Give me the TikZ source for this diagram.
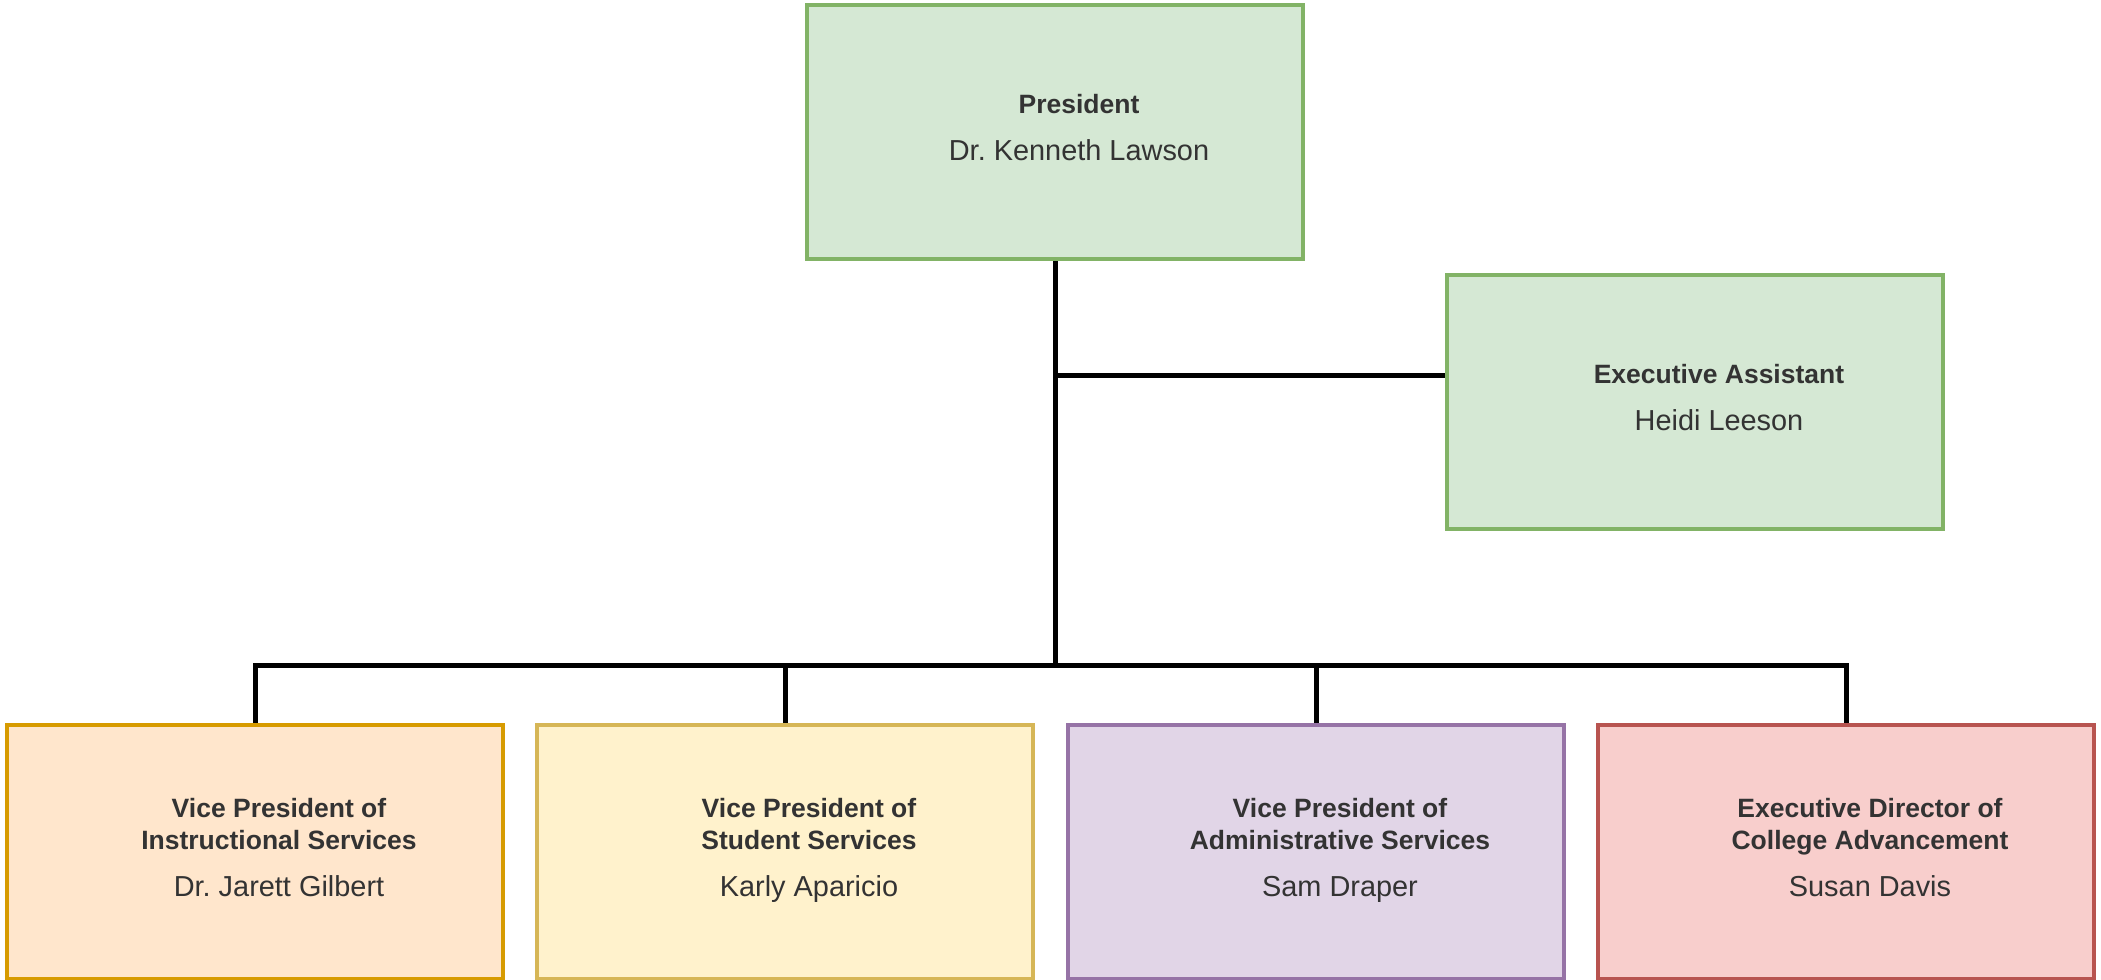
\documentclass[tikz,border=0pt]{standalone}
\usepackage{fontspec}
\setmainfont{Liberation Sans}
\frenchspacing
\definecolor{txt}{HTML}{333333}
\definecolor{greenfill}{HTML}{D5E8D4}
\definecolor{greenline}{HTML}{82B366}
\definecolor{orangefill}{HTML}{FFE6CC}
\definecolor{orangeline}{HTML}{D79B00}
\definecolor{yellowfill}{HTML}{FFF2CC}
\definecolor{yellowline}{HTML}{D6B656}
\definecolor{purplefill}{HTML}{E1D5E7}
\definecolor{purpleline}{HTML}{9673A6}
\definecolor{redfill}{HTML}{F8CECC}
\definecolor{redline}{HTML}{B85450}

\begin{document}
\begin{tikzpicture}[x=0.5pt,y=-0.5pt,
    box/.style={rectangle,draw,line width=2pt,minimum width=248pt,minimum height=127pt,inner sep=0pt},
    role/.style={anchor=south,align=center,inner sep=0pt,text depth=0pt,text=txt,xshift=12pt,
      font=\bfseries\fontsize{13.25}{16}\selectfont},
    who/.style={anchor=base,inner sep=0pt,text=txt,xshift=12pt,font=\fontsize{14.45}{17}\selectfont},
    link/.style={line width=2.5pt}]
    \useasboundingbox (0,0) rectangle (2101,980);

    \node[box,fill=greenfill,draw=greenline] (pres) at (1055,132) {};
    \node[role,yshift=9pt] (pres-role) at (pres.center) {President};
    \node[who,yshift=-14pt] (pres-who) at (pres.center) {Dr. Kenneth Lawson};

    \node[box,fill=greenfill,draw=greenline] (ea) at (1695,402) {};
    \node[role,yshift=9pt] (ea-role) at (ea.center) {Executive Assistant};
    \node[who,yshift=-14pt] (ea-who) at (ea.center) {Heidi Leeson};

    \node[box,fill=orangefill,draw=orangeline] (vpis) at (255,852) {};
    \node[role,yshift=1pt] (vpis-role) at (vpis.center) {Vice President of\\Instructional Services};
    \node[who,yshift=-22pt] (vpis-who) at (vpis.center) {Dr. Jarett Gilbert};

    \node[box,fill=yellowfill,draw=yellowline] (vpss) at (785,852) {};
    \node[role,yshift=1pt] (vpss-role) at (vpss.center) {Vice President of\\Student Services};
    \node[who,yshift=-22pt] (vpss-who) at (vpss.center) {Karly Aparicio};

    \node[box,fill=purplefill,draw=purpleline] (vpas) at (1316,852) {};
    \node[role,yshift=1pt] (vpas-role) at (vpas.center) {Vice President of\\Administrative Services};
    \node[who,yshift=-22pt] (vpas-who) at (vpas.center) {Sam Draper};

    \node[box,fill=redfill,draw=redline] (edca) at (1846,852) {};
    \node[role,yshift=1pt] (edca-role) at (edca.center) {Executive Director of\\College Advancement};
    \node[who,yshift=-22pt] (edca-who) at (edca.center) {Susan Davis};

    \coordinate (tap) at (1055,375);
    \coordinate (bus) at (1055,665);
    \draw[link] (pres.south) -- (bus);
    \draw[link] (tap) -- (tap -| ea.west);
    \draw[link] (vpis.north) |- (bus) -| (edca.north);
    \draw[link] (vpss.north) -- (vpss.north |- bus);
    \draw[link] (vpas.north) -- (vpas.north |- bus);
  \end{tikzpicture}
\end{document}
